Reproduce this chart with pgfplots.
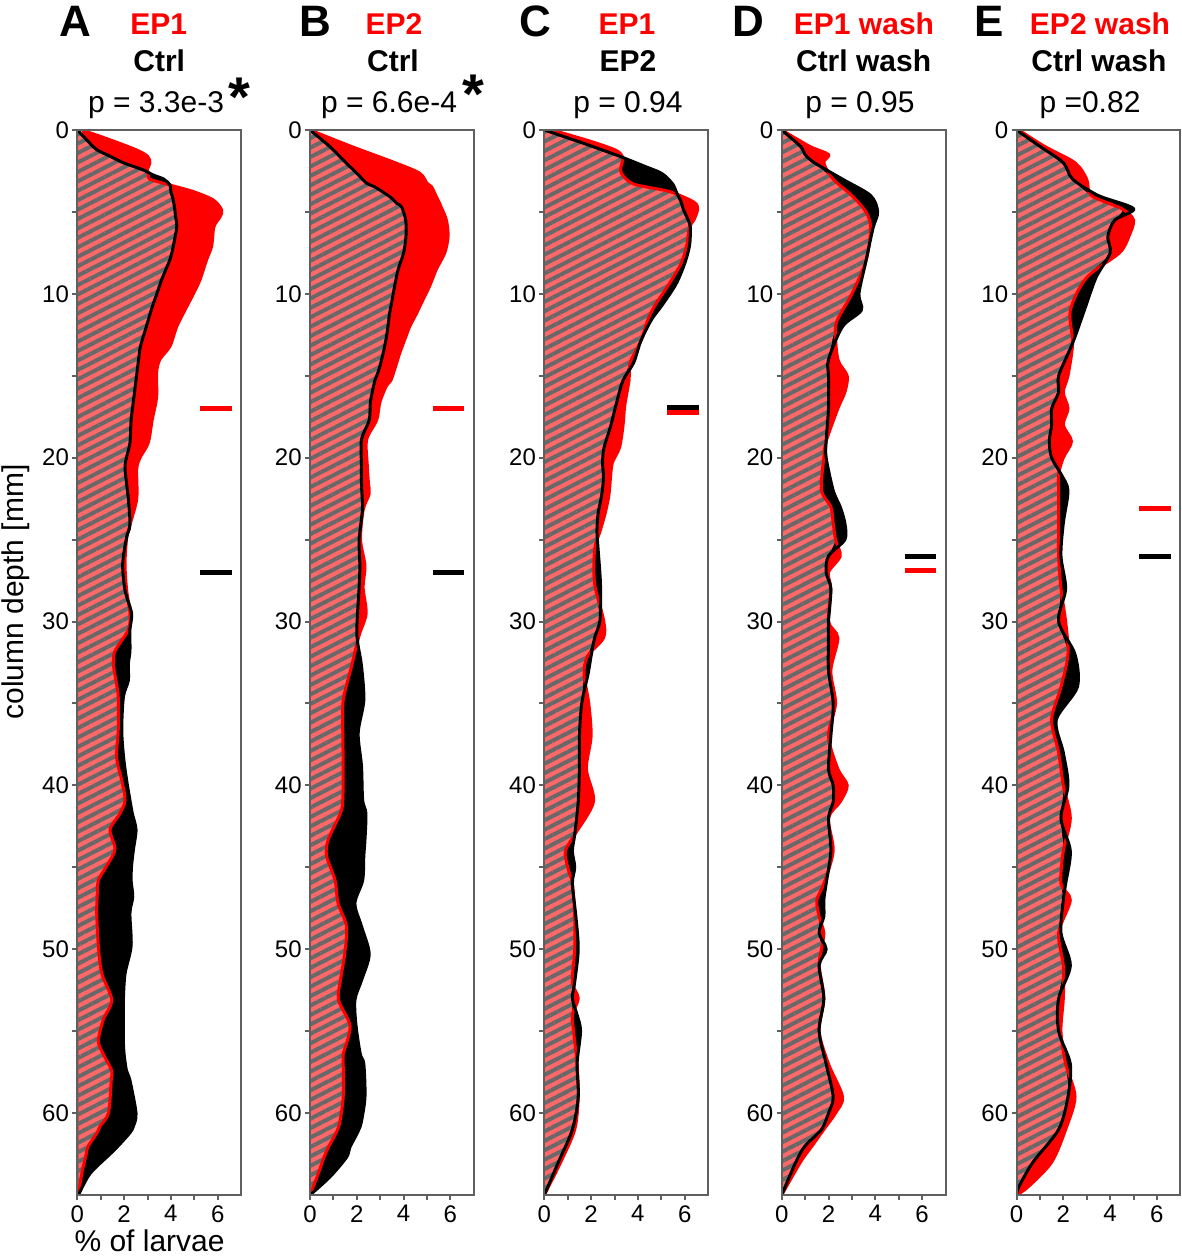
\documentclass[border=0pt]{standalone}
\usepackage{pgfplots}
\pgfplotsset{compat=1.18}
\usepackage{pgfplotstable}
\usetikzlibrary{patterns.meta}
\usepackage{fontspec}
\setmainfont{Liberation Sans}

\definecolor{hatchred}{RGB}{255,104,104}
\definecolor{hatchgray}{RGB}{104,104,104}
\definecolor{axisgray}{RGB}{96,96,96}

% columns: depth [mm], red series, black series (% of larvae)
\pgfplotstableread{
d r b
0 0.2 0
0.6 1.4 0.4
1.2 2.5 0.83
1.6 3.0 1.4
2.0 3.1 1.97
2.44 2.99 2.82
2.75 3.05 3.25
3.0 3.1 3.7
3.36 3.96 3.96
3.76 4.96 4.0
4.27 5.81 4.1
4.88 6.17 4.17
5.3 6.1 4.2
5.9 5.84 4.25
7.1 5.74 4.1
7.9 5.53 3.96
9.15 5.24 3.6
10.0 4.96 3.4
10.8 4.67 3.2
12.0 4.25 2.95
13.2 3.96 2.7
14.0 3.53 2.62
14.8 3.39 2.55
16.3 3.39 2.42
17.7 3.2 2.3
19.1 3.03 2.25
20.0 2.68 2.1
20.7 2.54 2.04
22.5 2.54 2.18
24.1 2.25 2.25
24.9 2.11 2.1
26.5 2.04 1.94
28.1 2.11 2.04
29.5 2.25 2.32
30.5 2.18 2.25
31.8 1.61 2.25
32.6 1.54 2.18
33.6 1.65 2.18
34.6 1.75 1.97
36.6 1.75 1.9
38.3 1.68 1.98
39.7 1.9 2.11
40.9 2.04 2.25
41.7 1.83 2.35
42.7 1.4 2.51
43.9 1.61 2.4
44.9 1.26 2.32
45.8 0.9 2.3
46.8 0.85 2.37
47.8 0.83 2.25
49.8 0.9 2.3
51.5 1.05 2.04
53.1 1.47 1.97
54.3 1.11 1.97
55.6 0.9 1.97
56.4 1.11 2.0
57.4 1.47 2.1
58.0 1.45 2.25
60.0 1.33 2.51
60.8 0.97 2.4
61.2 0.85 2.25
62.0 0.47 1.75
62.5 0.38 1.4
63.7 0.19 0.54
65 0.05 0.05
}\dataA

\pgfplotstableread{
d r b
0 0 0
1.02 1.8 0.85
2.03 3.7 1.56
2.64 4.69 2.0
3.25 5.0 2.42
3.46 5.19 2.75
4.07 5.4 3.41
4.47 5.54 3.7
4.68 5.6 3.91
5.5 5.83 4.09
6.5 5.9 4.1
7.5 5.76 4.0
8.5 5.4 3.77
9.5 5.12 3.62
10.6 4.75 3.48
11.2 4.55 3.4
12.0 4.26 3.33
12.6 4.1 3.27
13.6 3.84 3.13
14.6 3.62 2.95
15.3 3.45 2.77
15.6 3.27 2.72
16.6 2.99 2.58
17.7 2.85 2.53
18.9 2.42 2.2
20.5 2.45 2.2
21.6 2.5 2.2
22.2 2.53 2.22
23.2 2.27 2.24
25.0 2.16 2.1
26.6 2.35 2.13
27.9 2.27 2.1
29.5 2.4 2.03
30.7 2.13 2.0
31.5 1.98 2.06
32.7 1.78 2.2
34.8 1.42 2.3
36.8 1.4 2.06
38.8 1.42 2.2
40.9 1.4 2.25
41.7 1.3 2.39
43.3 0.78 2.35
44.3 0.71 2.3
45.8 1.07 2.25
47.2 1.2 1.92
48.6 1.56 2.2
50.3 1.48 2.53
51.9 1.3 2.2
53.1 1.22 1.92
54.7 1.71 1.97
56.4 1.42 2.15
57.0 1.42 2.3
59.0 1.42 2.35
60.5 1.28 2.2
61.1 1.15 2.06
62.1 0.78 1.7
62.7 0.6 1.56
63.9 0.3 0.85
65 0 0
}\dataB

\pgfplotstableread{
d r b
0 0.33 0
0.7 2.0 1.45
1.24 3.06 2.52
1.68 3.36 3.36
2.22 3.28 4.3
2.66 3.3 5.03
3.3 3.82 5.49
3.75 5.33 5.63
4.4 6.39 5.85
4.84 6.55 5.94
5.5 6.39 6.15
5.93 6.2 6.24
7.02 6.09 6.21
8.1 5.86 6.01
9.4 5.33 5.63
10.7 4.73 5.03
11.6 4.42 4.57
12.9 4.12 4.12
14.2 3.67 3.82
15.3 3.62 3.36
16.8 3.44 3.06
18.1 3.36 2.83
19.4 3.21 2.55
20.3 2.91 2.49
21.2 2.83 2.53
22.3 2.76 2.45
23.4 2.6 2.3
24.5 2.38 2.25
25.6 2.15 2.3
27.7 2.15 2.4
29.9 2.53 2.38
31.0 2.53 2.15
32.1 1.85 2.0
33.2 1.7 1.87
35 1.9 1.6
37 2.0 1.5
39 1.8 1.5
41 2.1 1.45
43 1.3 1.3
44 0.9 1.2
45 1.0 1.3
46 1.2 1.2
48 1.3 1.35
50 1.3 1.45
52 1.2 1.3
53 1.45 1.2
54 1.2 1.4
55 1.25 1.55
57 1.4 1.4
59 1.45 1.45
61 1.3 1.2
63 0.7 0.6
65 0 0
}\dataC

\pgfplotstableread{
d r b
0 0 0
1 1.2 0.8
1.5 2.0 1.0
2 1.8 1.4
3 2.2 2.6
4 3.0 3.8
5 3.6 4.1
6 3.8 3.9
8 3.6 3.6
10 3.0 3.3
11 2.6 3.4
12 2.3 2.6
14 2.4 2.0
15 2.8 2.0
16 2.7 2.0
17 2.4 2.0
19 1.9 1.9
20 1.8 1.9
22 1.7 2.2
23 2.1 2.5
24 2.2 2.7
25 2.3 2.7
26 2.5 2.0
27 2.0 1.9
28 2.1 2.1
30 2.0 2.0
31 2.4 2.0
33 2.1 2.0
35 2.3 2.2
37 2.0 2.1
39 2.4 2.0
40 2.8 2.2
41 2.5 2.2
42 2.0 2.0
44 2.2 2.1
46 1.8 1.9
47 1.5 1.8
48 1.6 1.8
49 1.8 1.6
50 1.7 1.9
51 1.6 1.6
53 1.8 1.8
55 1.6 1.6
57 2.0 1.9
59 2.6 2.2
60 2.3 2.0
61 1.8 1.7
62 1.3 1.0
63 0.8 0.6
65 0 0
}\dataD

\pgfplotstableread{
d r b
0 0.1 0
1 1.2 1.0
2 2.5 2.0
3 3.0 2.4
4 3.2 3.5
4.8 4.5 5.0
5.5 5.0 4.2
6.5 4.8 3.9
7.5 4.4 4.0
9 3.0 3.4
11 2.3 2.9
13 2.4 2.4
15 2.2 1.8
16 2.0 1.8
17 2.2 1.5
18 2.0 1.5
19 2.35 1.4
20 2.0 1.5
21 1.8 1.9
22 1.8 2.2
24 1.8 2.0
26 1.8 1.9
28 1.9 2.1
30 2.1 1.8
32 2.2 2.5
34 1.9 2.6
36 1.5 1.7
38 1.8 2.0
40 2.0 2.2
42 2.3 1.9
44 2.0 2.3
46 1.9 2.1
47 2.3 2.0
49 1.8 1.9
51 2.0 2.3
53 2.0 1.8
55 1.9 1.8
57 2.1 2.3
59 2.5 2.2
61 2.1 1.8
63 1.5 0.7
64.5 0.5 0.1
65 0 0
}\dataE

\pgfplotsset{
  panel/.style={
    scale only axis, width=81.9pt, height=532.5pt, anchor=south west,
    xmin=0, xmax=7, ymin=0, ymax=65, y dir=reverse,
    xtick={0,2,4,6}, minor xtick={1,3,5},
    ytick={0,10,...,60}, minor ytick={5,15,...,55},
    tick align=outside, tick pos=left,
    major tick length=2.5pt, minor tick length=2.5pt,
    axis line style={draw=axisgray, line width=1pt},
    every tick/.style={draw=axisgray, line width=1pt},
    every minor tick/.style={draw=axisgray, line width=1pt},
    /pgf/number format/assume math mode=true,
    ticklabel style={font=\fontsize{12}{12}\selectfont},
    yticklabel style={inner sep=1.5pt},
    xticklabel style={inner sep=2.5pt},
    axis on top,
  },
}

% one panel: data table, x position of the axis, red and black median depths
\newcommand{\panel}[4]{%
\begin{axis}[panel, at={(#2,31.5pt)}]
\addplot[draw=none, fill=red, smooth] table[x=r, y=d] {#1} -- cycle;
\addplot[draw=none, fill=black, smooth] table[x=b, y=d] {#1} -- cycle;
\addplot[draw=none, fill=hatchred, smooth,
  postaction={pattern={Lines[angle=27, distance=4.2pt, line width=2pt]}, pattern color=hatchgray}]
  table[x expr={min(\thisrow{r},\thisrow{b})}, y=d] {#1} -- cycle;
\addplot[red, line width=1.5pt, smooth] table[x=r, y=d] {#1};
\addplot[black, line width=1.5pt, smooth] table[x=b, y=d] {#1};
\addplot[black, line width=2.5pt] coordinates {(5.25,#4) (6.6,#4)};
\addplot[red, line width=2.5pt] coordinates {(5.25,#3) (6.6,#3)};
\end{axis}}

\begin{document}
\begin{tikzpicture}
\useasboundingbox (0,0) rectangle (591pt,629pt);

\panel{\dataA}{38.65pt}{17}{27}
\panel{\dataB}{155pt}{17}{27}
\panel{\dataC}{272.15pt}{17.25}{16.95}
\panel{\dataD}{390.85pt}{26.9}{26.0}
\panel{\dataE}{508.25pt}{23.1}{26.0}

% panel letters
\begin{scope}[every node/.style={anchor=base, inner sep=0pt, font=\bfseries\fontsize{22}{22}\selectfont}]
\node at (37.5pt,610.5pt) {A};
\node at (157.5pt,610.5pt) {B};
\node at (267.5pt,610.5pt) {C};
\node at (374pt,610.5pt) {D};
\node at (494.5pt,610.5pt) {E};
\end{scope}

% group names
\begin{scope}[every node/.style={anchor=base, inner sep=0pt, font=\bfseries\fontsize{15}{15}\selectfont}]
\node[text=red] at (79.3pt,611.5pt) {EP1};
\node at (79.6pt,593pt) {Ctrl};
\node[text=red] at (197pt,611.5pt) {EP2};
\node at (196.5pt,593pt) {Ctrl};
\node[text=red] at (313.5pt,611.5pt) {EP1};
\node at (314pt,593pt) {EP2};
\node[text=red] at (432pt,611.5pt) {EP1 wash};
\node at (431.8pt,593pt) {Ctrl wash};
\node[text=red] at (550pt,611.5pt) {EP2 wash};
\node at (549.5pt,593pt) {Ctrl wash};
\end{scope}

% p values
\begin{scope}[every node/.style={anchor=base, inner sep=0pt, font=\fontsize{15}{15}\selectfont}]
\node at (78pt,572.5pt) {p = 3.3e-3};
\node at (194.5pt,572.5pt) {p = 6.6e-4};
\node at (314pt,572.5pt) {p = 0.94};
\node at (430pt,572.5pt) {p = 0.95};
\node at (545pt,572.5pt) {p =0.82};
\end{scope}
\node[anchor=north, inner sep=0pt, font=\bfseries\fontsize{28}{28}\selectfont] at (119.5pt,590pt) {*};
\node[anchor=north, inner sep=0pt, font=\bfseries\fontsize{28}{28}\selectfont] at (236.5pt,591.5pt) {*};

% axis titles
\node[rotate=90, anchor=base, inner sep=0pt, font=\fontsize{15}{15}\selectfont] at (12pt,333pt) {column depth [mm]};
\node[anchor=base, inner sep=0pt, font=\fontsize{15}{15}\selectfont] at (74.8pt,3pt) {\% of larvae};
\end{tikzpicture}
\end{document}
